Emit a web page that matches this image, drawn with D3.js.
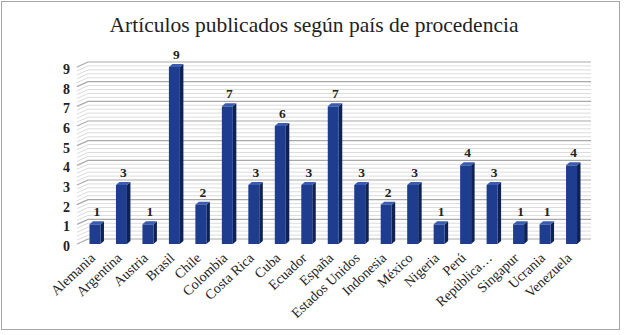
<!DOCTYPE html>
<html>
<head>
<meta charset="utf-8">
<script src="https://cdn.jsdelivr.net/npm/d3@7"></script>
<style>
  body { margin: 0; background: #fff; }
  text { font-family: "Liberation Serif", "Times New Roman", serif; fill: #222; }
</style>
</head>
<body>
<div class="chart"></div>
<script>
const countries = ["Alemania", "Argentina", "Austria", "Brasil", "Chile", "Colombia", "Costa Rica", "Cuba",
  "Ecuador", "España", "Estados Unidos", "Indonesia", "México", "Nigeria", "Perú", "República…",
  "Singapur", "Ucrania", "Venezuela"]
const articles = [1, 3, 1, 9, 2, 7, 3, 6, 3, 7, 3, 2, 3, 1, 4, 3, 1, 1, 4]
const yTicks = [0, 1, 2, 3, 4, 5, 6, 7, 8, 9]

const width = 627, height = 335
// depth offsets for the fake 3d look
const wallDx = 11, wallDy = -5
const barDx = 3.5, barDy = -3

let svg = d3.select(".chart").append("svg")
  .attr("width", width)
  .attr("height", height)

// outer frame
svg.append("rect")
  .attr("x", 1.5).attr("y", 1.5)
  .attr("width", 618).attr("height", 328)
  .attr("fill", "#fff")
  .attr("stroke", "#a6a6a6")

svg.append("text")
  .attr("x", 314)
  .attr("y", 32)
  .attr("text-anchor", "middle")
  .attr("font-size", 21.5)
  .text("Artículos publicados según país de procedencia")

let x = d3.scaleBand()
  .domain(countries)
  .range([81.8, 584.7])
  .paddingInner(0.585)
  .paddingOuter(0.29)

let y = d3.scaleLinear()
  .domain([0, 9])
  .range([244, 67])

// back wall grid: minor every 0.2, major every 1
let minor = d3.range(0, 9.01, 0.2).filter(v => Math.abs(v - Math.round(v)) > 0.01)
let grid = svg.append("g").attr("fill", "none")
grid.selectAll("path.minor")
  .data(minor)
  .join("path")
  .attr("class", "minor")
  .attr("stroke", "#dcdcdc")
  .attr("stroke-width", 1)
  .attr("d", d => `M${77},${y(d)}L${77 + wallDx},${y(d) + wallDy}H591`)
grid.selectAll("path.major")
  .data(yTicks)
  .join("path")
  .attr("class", "major")
  .attr("stroke", "#a9a9a9")
  .attr("stroke-width", 1.2)
  .attr("d", d => `M${77},${y(d)}L${77 + wallDx},${y(d) + wallDy}H591`)

// y tick labels
svg.append("g")
  .attr("font-size", 14)
  .attr("font-weight", "bold")
  .attr("text-anchor", "end")
  .selectAll("text")
  .data(yTicks)
  .join("text")
  .attr("x", 70)
  .attr("y", d => y(d) + 7)
  .text(d => d)

// bars: front, side and top faces
let bars = svg.append("g")
  .selectAll("g")
  .data(countries.map((c, i) => ({name: c, value: articles[i]})))
  .join("g")

bars.append("path")
  .attr("fill", "#0f2254")
  .attr("d", d => {
    let x1 = x(d.name) + x.bandwidth()
    return `M${x1},${y(d.value)}L${x1 + barDx},${y(d.value) + barDy}L${x1 + barDx},${y(0) + barDy}L${x1},${y(0)}Z`
  })
bars.append("path")
  .attr("fill", "#3a5cb0")
  .attr("d", d => {
    let x0 = x(d.name), x1 = x0 + x.bandwidth(), yt = y(d.value)
    return `M${x0},${yt}L${x0 + barDx},${yt + barDy}L${x1 + barDx},${yt + barDy}L${x1},${yt}Z`
  })
bars.append("rect")
  .attr("fill", "#1e3d8f")
  .attr("x", d => x(d.name))
  .attr("y", d => y(d.value))
  .attr("width", x.bandwidth())
  .attr("height", d => y(0) - y(d.value))

// value labels
bars.append("text")
  .attr("x", d => x(d.name) + x.bandwidth() / 2 + 2)
  .attr("y", d => y(d.value) - 8)
  .attr("text-anchor", "middle")
  .attr("font-size", 13.5)
  .attr("font-weight", "bold")
  .text(d => d.value)

// category labels
svg.append("g")
  .attr("font-size", 14)
  .attr("text-anchor", "end")
  .selectAll("text")
  .data(countries)
  .join("text")
  .attr("transform", d => `translate(${x(d) + x.bandwidth() / 2 + 1},${259}) rotate(-43)`)
  .text(d => d)
</script>
</body>
</html>
